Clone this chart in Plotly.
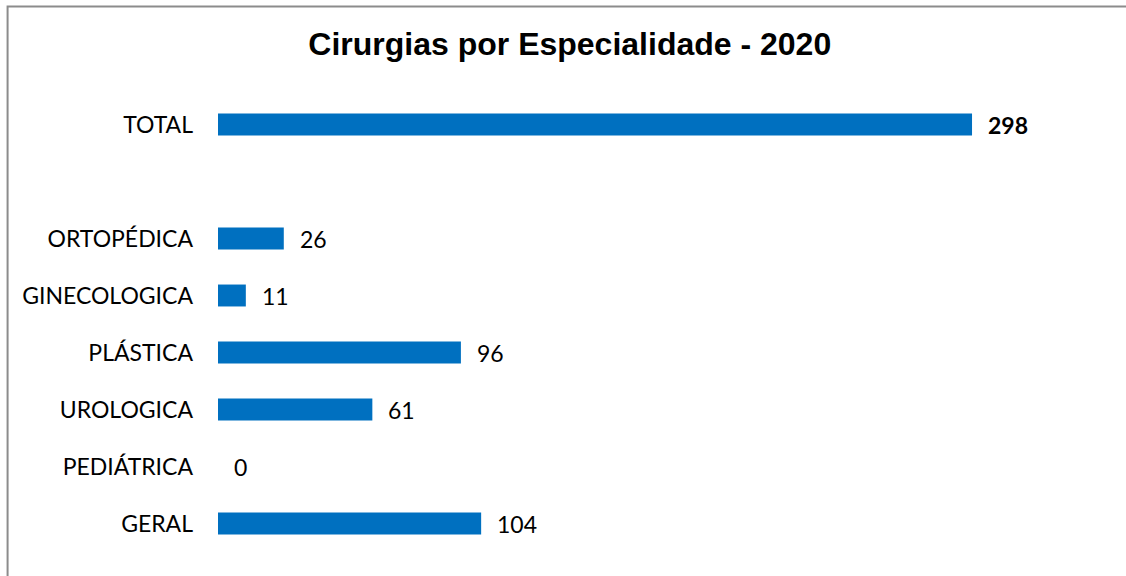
import plotly.graph_objects as go

# Data (bottom to top, blank slot between ORTOPÉDICA and TOTAL)
categories = ['GERAL', 'PEDIÁTRICA', 'UROLOGICA', 'PLÁSTICA', 'GINECOLOGICA', 'ORTOPÉDICA', ' ', 'TOTAL']
values = [104, 0, 61, 96, 11, 26, None, 298]
bold_cats = ['TOTAL']

title = 'Cirurgias por Especialidade - 2020'
bar_color = '#0070C0'

fig = go.Figure()
fig.add_trace(go.Bar(
    x=values, y=categories, orientation='h',
    marker=dict(color=bar_color, line=dict(width=0)),
    hoverinfo='x+y',
))

# Value labels to the right of each bar
for cat, val in zip(categories, values):
    if val is None:
        continue
    txt = f'<b>{val}</b>' if cat in bold_cats else str(val)
    fig.add_annotation(x=val, y=cat, text=txt, showarrow=False,
                       xanchor='left', xshift=14,
                       font=dict(family='Lato', size=23, color='#000000'))

fig.update_layout(
    width=1126, height=576,
    margin=dict(l=218, r=73, t=96, b=24),
    paper_bgcolor='white', plot_bgcolor='white',
    bargap=0.615,
    showlegend=False,
    title=dict(text=f'<b>{title}</b>', x=0.506, xref='container', xanchor='center',
               y=0.924, yref='container', yanchor='middle',
               font=dict(family='Liberation Sans', size=32, color='#000000')),
    xaxis=dict(range=[0, 330], visible=False, fixedrange=True),
    yaxis=dict(type='category', categoryorder='array', categoryarray=categories,
               showgrid=False, showline=False, zeroline=False, ticks='',
               ticklabelstandoff=24, fixedrange=True,
               tickfont=dict(family='Lato', size=23, color='#000000')),
    # outer chart border (only top and left edges visible in the frame)
    shapes=[dict(type='rect', xref='paper', yref='paper',
                 x0=-0.252, x1=1.2, y0=-0.2, y1=1.196,
                 line=dict(color='#8c8c8c', width=2), fillcolor='rgba(0,0,0,0)',
                 layer='below')],
)

fig.write_html('out.html', config={'displayModeBar': False},
               post_script="document.body.style.margin='0px';")
